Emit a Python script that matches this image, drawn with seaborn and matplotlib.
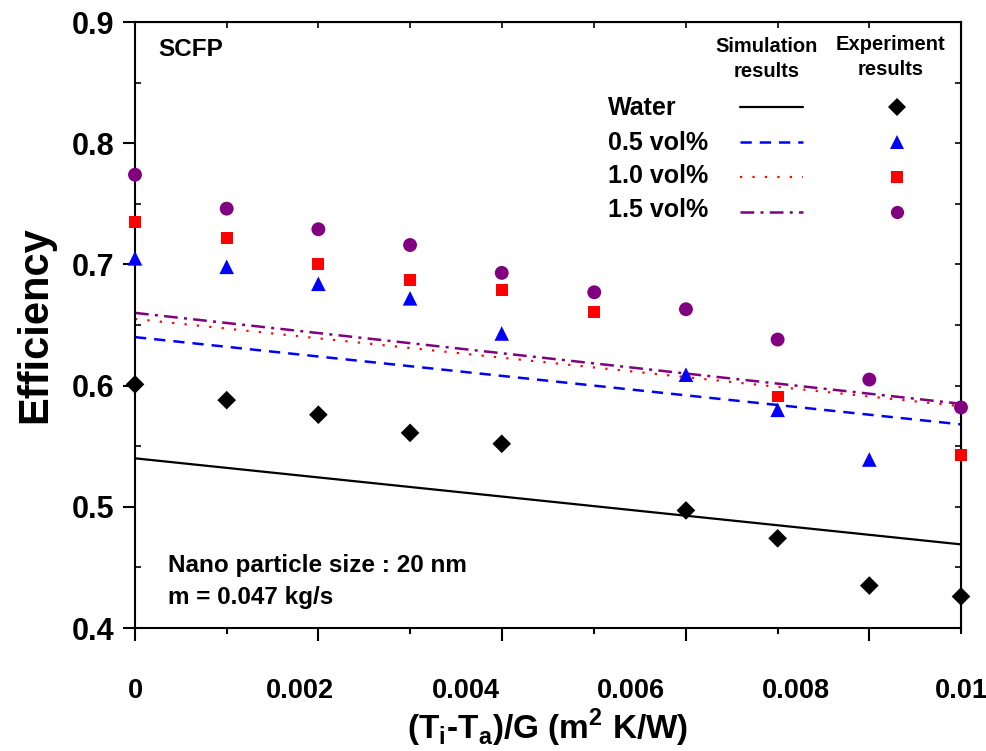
import matplotlib
matplotlib.use("Agg")
import matplotlib.pyplot as plt
import seaborn as sns
import numpy as np
from matplotlib.lines import Line2D
from matplotlib.legend_handler import HandlerTuple

sns.set_style("ticks")
plt.rcParams["font.family"] = ["Liberation Sans", "DejaVu Sans"]
for key in ["text.color", "axes.labelcolor", "xtick.color", "ytick.color", "axes.edgecolor"]:
    plt.rcParams[key] = "black"
plt.rcParams["mathtext.fontset"] = "custom"
plt.rcParams["mathtext.bf"] = "Liberation Sans:bold"
plt.rcParams["mathtext.rm"] = "Liberation Sans:bold"

nan = np.nan

# measured x positions of the experiment points (they sit on the axis ticks)
x_exp = [0, 0.00111, 0.00222, 0.00333, 0.00444, 0.00556, 0.00667, 0.00778, 0.00889, 0.01]
water_exp = [0.601, 0.588, 0.576, 0.561, 0.552, nan, 0.497, 0.474, 0.435, 0.426]
vol05_exp = [0.705, 0.698, 0.684, 0.672, 0.643, nan, 0.609, 0.580, 0.539, nan]
vol10_exp = [0.735, 0.722, 0.700, 0.687, 0.679, 0.661, nan, 0.591, nan, 0.543]
vol15_exp = [0.774, 0.746, 0.729, 0.716, 0.693, 0.677, 0.663, 0.638, 0.605, 0.582]

# simulation lines
x_sim = [0, 0.01]
water_sim = [0.540, 0.469]
vol05_sim = [0.640, 0.568]
vol10_sim = [0.655, 0.583]
vol15_sim = [0.660, 0.585]

names = ["Water", "0.5 vol%", "1.0 vol%", "1.5 vol%"]
colors = ["black", "#0000FF", "#FF0000", "#800080"]
markers = ["D", "^", "s", "o"]
msizes = [9.5, 10.5, 8.5, 10.0]
lstyles = ["-", (0, (4.5, 3.2)), (0, (1.0, 4.6)), (0, (5.5, 2.5, 1.2, 2.5))]
lwidths = [1.6, 1.8, 1.6, 1.8]

xtick_vals = [0, 0.002, 0.004, 0.006, 0.008, 0.01]
xtick_labels = ["0", "0.002", "0.004", "0.006", "0.008", "0.01"]
ytick_vals = [0.4, 0.5, 0.6, 0.7, 0.8, 0.9]
ytick_labels = ["0.4", "0.5", "0.6", "0.7", "0.8", "0.9"]
ytick_minor = [0.45, 0.55, 0.65, 0.75, 0.85]

fig = plt.figure(figsize=(9.87, 7.51), dpi=100)
ax = fig.add_axes([135 / 987, 123 / 751, 826 / 987, 606 / 751])

sims = [water_sim, vol05_sim, vol10_sim, vol15_sim]
exps = [water_exp, vol05_exp, vol10_exp, vol15_exp]
for i in range(4):
    sns.lineplot(x=x_sim, y=sims[i], ax=ax, color=colors[i], linewidth=lwidths[i],
                 linestyle=lstyles[i], zorder=2)
for i in range(4):
    sns.scatterplot(x=x_exp, y=exps[i], ax=ax, marker=markers[i], s=msizes[i] ** 2,
                    color=colors[i], edgecolor="none", linewidth=0, zorder=3, clip_on=False)

ax.set_xlim(0, 0.01)
ax.set_ylim(0.4, 0.9)
for sp in ax.spines.values():
    sp.set_visible(True)
    sp.set_linewidth(1.5)
    sp.set_color("black")

# bottom ticks: long / short alternating at the point positions
ax.set_xticks(x_exp[0::2])
ax.set_xticks(x_exp[1::2], minor=True)
ax.tick_params(axis="x", which="major", direction="out", length=9, width=1.5, labelbottom=False)
ax.tick_params(axis="x", which="minor", direction="out", length=4.5, width=1.5)

# x labels on their own axis
secx = ax.secondary_xaxis("bottom")
secx.set_xticks(xtick_vals, xtick_labels)
secx.tick_params(length=0, pad=36, labelsize=19.5)
secx.spines["bottom"].set_visible(False)
for t in secx.get_xticklabels():
    t.set_fontweight("bold")

topx = ax.secondary_xaxis("top")
topx.set_xticks(x_exp)
topx.tick_params(direction="in", length=4, width=1.2, labeltop=False)

ax.set_yticks(ytick_vals, ytick_labels)
ax.set_yticks(ytick_minor, minor=True)
ax.tick_params(axis="y", which="major", direction="out", length=9, width=1.5, pad=6, labelsize=22)
ax.tick_params(axis="y", which="minor", direction="in", length=4, width=1.2)
for t in ax.get_yticklabels():
    t.set_fontweight("bold")

righty = ax.secondary_yaxis("right")
righty.set_yticks(ytick_vals + ytick_minor)
righty.tick_params(direction="in", length=4, width=1.2, labelright=False)

ax.set_ylabel("Efficiency", fontsize=30, fontweight="bold")
ax.yaxis.set_label_coords(-0.096, 0.5)
ax.set_xlabel(r"(T$_{\mathbf{i}}$-T$_{\mathbf{a}}$)/G (m$^{\mathbf{2}}$ K/W)",
              fontsize=24, fontweight="bold")
ax.xaxis.set_label_coords(0.5, -0.130)

# legend: line sample and marker side by side, labels written separately
handles = []
for i in range(4):
    ln = Line2D([], [], color=colors[i], linewidth=lwidths[i], linestyle=lstyles[i])
    mk = Line2D([], [], color=colors[i], marker=markers[i], markersize=msizes[i] * 0.95,
                linestyle="none", markeredgewidth=0)
    handles.append((ln, mk))
ax.legend(handles, [""] * 4, handler_map={tuple: HandlerTuple(ndivide=None, pad=2.8)},
          handlelength=8.5, handletextpad=0, fontsize=16, frameon=False,
          loc="upper left", bbox_to_anchor=(0.7324, 0.874), borderpad=0,
          borderaxespad=0, labelspacing=0.63)

label_y = [0.8465, 0.789, 0.734, 0.678]
for name, yy in zip(names, label_y):
    ax.text(0.573, yy, name, transform=ax.transAxes, fontsize=18, fontweight="bold",
            va="baseline", ha="left")

ax.text(0.765, 0.9505, "Simulation", transform=ax.transAxes, fontsize=14.5,
        fontweight="bold", ha="center", va="baseline")
ax.text(0.765, 0.9092, "results", transform=ax.transAxes, fontsize=14.5,
        fontweight="bold", ha="center", va="baseline")
ax.text(0.915, 0.9538, "Experiment", transform=ax.transAxes, fontsize=14.5,
        fontweight="bold", ha="center", va="baseline")
ax.text(0.915, 0.9125, "results", transform=ax.transAxes, fontsize=14.5,
        fontweight="bold", ha="center", va="baseline")

ax.text(0.0278, 0.944, "SCFP", transform=ax.transAxes, fontsize=17.5,
        fontweight="bold", va="baseline")
ax.text(0.040, 0.0924, "Nano particle size : 20 nm", transform=ax.transAxes,
        fontsize=17.5, fontweight="bold", va="baseline")
ax.text(0.040, 0.0396, "m = 0.047 kg/s", transform=ax.transAxes,
        fontsize=17.5, fontweight="bold", va="baseline")

fig.savefig("out.png", dpi=100)
plt.close(fig)
